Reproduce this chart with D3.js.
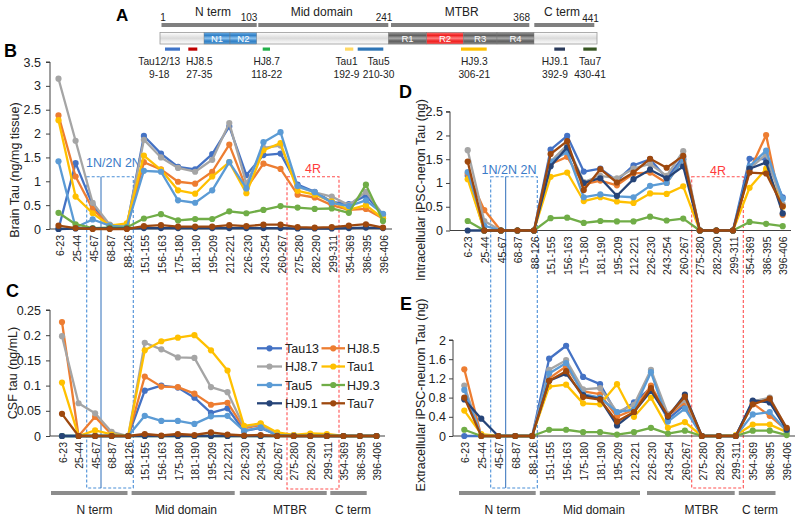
<!DOCTYPE html>
<html><head><meta charset="utf-8">
<script src="https://cdn.jsdelivr.net/npm/d3@7"></script>
<style>body{margin:0;background:#fff}svg{display:block;font-family:"Liberation Sans",Arial,sans-serif}</style>
</head><body><svg id="c" width="800" height="521"></svg>
<script>
// ---------- DATA ----------
const categories = ["6-23","25-44","45-67","68-87","88-126","151-155","156-163","175-180","181-190","195-209","212-221","226-230","243-254","260-267","275-280","282-290","299-311","354-369","386-395","396-406"];
const seriesNames = ["Tau13","HJ8.5","HJ8.7","Tau1","Tau5","HJ9.3","HJ9.1","Tau7"];

// Panel B: Brain Tau (ng/mg tissue)
const brainTau13 = [0,1.38,0.5,0.07,0.05,1.95,1.58,1.3,1.25,1.57,2.15,1.13,1.55,1.58,0.93,0.78,0.57,0.52,0.7,0.3];
const brainHJ85  = [2.38,1.1,0.42,0.07,0.01,1.4,1.25,0.99,0.95,1.2,1.77,0.85,1.37,1.26,0.72,0.66,0.5,0.4,0.42,0.22];
const brainHJ87  = [3.15,1.85,0.55,0.09,0.06,1.87,1.5,1.28,1.2,1.45,2.22,0.95,1.7,1.75,0.88,0.77,0.68,0.5,0.78,0.3];
const brainTau1  = [2.28,0.68,0.33,0.07,0.12,1.54,1.24,0.81,0.74,1.1,1.4,0.75,1.65,1.8,0.8,0.72,0.58,0.4,0.5,0.22];
const brainTau5  = [1.42,0.03,0.2,0.07,0.04,1.22,1.2,0.6,0.55,0.81,1.4,0.85,1.82,2.03,0.9,0.77,0.55,0.48,0.6,0.32];
const brainHJ93  = [0.34,0.1,0.02,0.03,0.03,0.22,0.31,0.18,0.21,0.21,0.37,0.33,0.4,0.48,0.45,0.42,0.43,0.34,0.93,0.17];
const brainHJ91  = [0,0.01,0.01,0.01,0.01,0.02,0.02,0.02,0.02,0.02,0.02,0.02,0.02,0.02,0.01,0.01,0.01,0.02,0.03,0.02];
const brainTau7  = [0.07,0.02,0,0,0,0.06,0.08,0.05,0.05,0.05,0.08,0.06,0.09,0.09,0.04,0.03,0.04,0.07,0.1,0.03];

// Panel C: CSF tau (ng/mL)
const csfTau13 = [0,0,0,0,0,0.09,0.1,0.096,0.076,0.046,0.055,0.01,0.016,0.002,0.002,0,0,0,0,0];
const csfHJ85  = [0.226,0,0.038,0.003,0,0.118,0.098,0.097,0.084,0.062,0.066,0.015,0.022,0.006,0,0,0,0,0,0];
const csfHJ87  = [0.198,0.065,0.045,0.008,0,0.185,0.172,0.156,0.155,0.097,0.087,0.018,0.024,0.003,0,0,0,0,0,0];
const csfTau1  = [0.106,0,0.011,0.003,0,0.17,0.188,0.195,0.2,0.17,0.13,0.02,0.025,0.007,0.002,0.005,0.004,0,0,0];
const csfTau5  = [0,0,0,0,0,0.04,0.03,0.03,0.024,0.039,0.04,0.01,0.017,0.001,0,0,0,0,0,0];
const csfHJ93  = [0,0,0,0,0,0,0,0,0,0,0,0,0,0,0,0,0,0,0,0];
const csfHJ91  = [0,0,0,0,0,0,0,0,0,0,0,0,0,0,0,0,0,0,0,0];
const csfTau7  = [0.044,0,0,0,0,0.004,0.001,0.004,0.002,0.007,0.003,0.001,0.002,0,0,0,0,0,0,0];

// Panel D: Intracellular iPSC-neuron Tau (ng)
const intTau13 = [1.15,0,0,0,0,1.7,1.99,1.24,1.3,1.05,1.37,1.5,1.1,1.55,0,0,0,1.51,1.5,0.7];
const intHJ85  = [1.2,0.43,0,0,0,1.4,1.55,0.97,1.05,0.95,1.2,1.22,1.0,1.5,0,0,0,1.25,2.01,0.33];
const intHJ87  = [1.69,0.2,0,0,0,1.45,1.8,1.02,1.15,1.1,1.3,1.4,1.15,1.67,0,0,0,1.3,1.6,0.55];
const intTau1  = [1.08,0,0,0,0,1.13,1.22,0.62,0.7,0.61,0.58,0.78,0.77,0.93,0,0,0,0.9,1.3,0.5];
const intTau5  = [1.23,0.1,0,0,0,1.45,1.65,0.7,0.76,0.72,0.7,0.94,1.0,1.5,0,0,0,1.35,1.68,0.67];
const intHJ93  = [0.2,0,0,0,0,0.26,0.27,0.16,0.2,0.19,0.19,0.29,0.21,0.25,0,0,0,0.18,0.14,0.09];
const intHJ91  = [0,0,0,0,0,1.35,1.75,1.0,1.1,0.73,1.08,1.28,1.1,1.35,0,0,0,1.3,1.43,0.36];
const intTau7  = [1.45,0,0,0,0,1.61,1.88,0.85,1.29,1.01,1.22,1.51,1.32,1.57,0,0,0,1.22,1.2,0.51];

// Panel E: Extracellular iPSC-neuron Tau (ng)
const extTau13 = [0,0,0,0,0,1.61,1.88,1.23,1.08,0.45,0.7,1.0,0.35,0.65,0,0,0,0.72,0.75,0.13];
const extHJ85  = [1.39,0,0,0,0,1.2,1.45,0.93,0.87,0.4,0.55,1.05,0.42,0.7,0,0,0,0.68,0.42,0.12];
const extHJ87  = [1.05,0,0,0,0,1.38,1.58,0.97,1.0,0.5,0.65,1.38,0.45,0.75,0,0,0,0.72,0.8,0.15];
const extTau1  = [0.53,0.04,0,0,0,1.03,1.07,0.68,0.66,1.08,0.4,0.8,0.17,0.29,0,0,0.02,0.24,0.24,0.08];
const extTau5  = [0.96,0,0,0,0,1.3,1.52,0.87,0.8,0.5,0.55,1.33,0.3,0.57,0,0,0,0.45,0.5,0.1];
const extHJ93  = [0.13,0,0,0,0,0.13,0.13,0.08,0.08,0.03,0.08,0.17,0.05,0.11,0,0,0,0.11,0.11,0.02];
const extHJ91  = [0.76,0.36,0,0,0,1.15,1.3,0.85,0.77,0.22,0.5,0.94,0.4,0.86,0,0,0,0.74,0.7,0.13];
const extTau7  = [0.8,0,0,0,0,1.15,1.35,0.81,0.76,0.3,0.5,1.0,0.42,0.82,0,0,0,0.66,0.78,0.17];

const ticksB = [0,0.5,1,1.5,2,2.5,3,3.5];
const ticksC = [0,0.05,0.1,0.15,0.2,0.25];
const ticksD = [0,0.5,1,1.5,2,2.5];
const ticksE = [0,0.4,0.8,1.2,1.6,2];

// Panel A: tau protein map
const domainNames = ["N term","Mid domain","MTBR","C term"];
const domainEnds = ["1","103","241","368","441"];
const epitopeNames = ["Tau12/13","HJ8.5","HJ8.7","Tau1","Tau5","HJ9.3","HJ9.1","Tau7"];
const epitopeRanges = ["9-18","27-35","118-22","192-9","210-30","306-21","392-9","430-41"];
const regionLabels = ["N1","N2","R1","R2","R3","R4"];

// ---------- STYLE ----------
const colors = ["#4472C4","#ED7D31","#A5A5A5","#FFC000","#5B9BD5","#70AD47","#264478","#9E480E"];
const epiColors = ["#3f74c8","#c00000","#22b04a","#ffd966","#2e75b6","#ffc000","#2a3a5a","#375623"];
const FONT = '"Liberation Sans", Arial, sans-serif';
const svg = d3.select("#c");

// ---------- PANEL A ----------
const defs = svg.append("defs");
function grad(id, stops){
  const g = defs.append("linearGradient").attr("id",id).attr("x1",0).attr("y1",0).attr("x2",0).attr("y2",1);
  stops.forEach((c,i)=>g.append("stop").attr("offset",(i/(stops.length-1)*100)+"%").attr("stop-color",c));
}
grad("gBar",["#ffffff","#ececec","#dadada","#eeeeee","#f9f9f9"]);
grad("gN",["#6fb0e6","#2f7fc6","#8cc2ee","#2f7fc6","#5a9fd8"]);
grad("gR",["#9a9a9a","#5e5e5e","#a8a8a8","#5e5e5e","#888888"]);
grad("gR2",["#ff7070","#ee2020","#ff8080","#ee2020","#ff5050"]);

const barX0 = 160, barX1 = 597, barY = 32.5, barH = 11.5;
svg.append("rect").attr("x",barX0).attr("y",barY).attr("width",barX1-barX0).attr("height",barH)
  .attr("fill","url(#gBar)").attr("stroke","#9a9a9a").attr("stroke-width",0.8);
const regionX = [[204,230],[230,256.7],[388.3,426.7],[426.7,463.3],[463.3,497],[497,534]];
const regionFill = ["url(#gN)","url(#gN)","url(#gR)","url(#gR2)","url(#gR)","url(#gR)"];
regionLabels.forEach((r,i)=>{
  svg.append("rect").attr("x",regionX[i][0]).attr("y",barY).attr("width",regionX[i][1]-regionX[i][0]).attr("height",barH)
    .attr("fill",regionFill[i]).attr("stroke","#777").attr("stroke-width",0.4);
  svg.append("text").attr("x",(regionX[i][0]+regionX[i][1])/2).attr("y",barY+barH/2+3.3).attr("text-anchor","middle")
    .attr("font-size",9.5).attr("fill","#fff").attr("font-family",FONT).text(r);
});
const domX = [[161.5,256.7],[258.3,388.3],[391,529.3],[534.3,594.3]];
const domLabelX = [213,321.7,461.7,562];
domainNames.forEach((d,i)=>{
  svg.append("rect").attr("x",domX[i][0]).attr("y",23).attr("width",domX[i][1]-domX[i][0]).attr("height",4).attr("fill","#7f7f7f");
  svg.append("text").attr("x",domLabelX[i]).attr("y",16).attr("text-anchor","middle").attr("font-size",12).attr("font-family",FONT).attr("fill","#222").text(d);
});
const endX = [163,249,384,521.7,590.5], endY=[20.5,20.5,20.5,20.5,21.5];
domainEnds.forEach((t,i)=>{
  svg.append("text").attr("x",endX[i]).attr("y",endY[i]).attr("text-anchor","middle").attr("font-size",10).attr("font-family",FONT).attr("fill","#222").text(t);
});
const epiMark = [[165,180],[188.3,197.3],[262.7,270],[345,353.3],[357.7,383.3],[461,486.7],[554.3,565],[583.3,596.7]];
const epiLabX = [159.3,199.3,266.7,346.5,378.5,474.3,555,590];
epitopeNames.forEach((e,i)=>{
  svg.append("rect").attr("x",epiMark[i][0]).attr("y",47.5).attr("width",epiMark[i][1]-epiMark[i][0]).attr("height",3.2).attr("fill",epiColors[i]);
  svg.append("text").attr("x",epiLabX[i]).attr("y",65).attr("text-anchor","middle").attr("font-size",10.2).attr("font-family",FONT).attr("fill","#222").text(e);
  svg.append("text").attr("x",epiLabX[i]).attr("y",77.5).attr("text-anchor","middle").attr("font-size",10.2).attr("font-family",FONT).attr("fill","#222").text(epitopeRanges[i]);
});

// ---------- PANEL LETTERS ----------
[["A",116,20.5,17],["B",4,57,18],["C",6,296.5,18],["D",399,98,18],["E",400,309.5,18]].forEach(([t,x,y,s])=>{
  svg.append("text").attr("x",x).attr("y",y).attr("font-size",s).attr("font-weight","bold").attr("font-family",FONT).attr("fill","#000").text(t);
});

// ---------- DASHED REGION BOXES (drawn behind) ----------
const boxG = svg.append("g");
function box(x0,x1,y0,y1,col,mid){
  boxG.append("rect").attr("x",x0).attr("y",y0).attr("width",x1-x0).attr("height",y1-y0).attr("fill","none")
    .attr("stroke",col).attr("stroke-width",1.1).attr("stroke-dasharray","3,2");
  if(mid!==undefined) boxG.append("line").attr("x1",mid).attr("x2",mid).attr("y1",y0).attr("y2",y1).attr("stroke","#2f6eba").attr("stroke-width",1);
}
box(86.7,133.3,176.7,488,"#4a8fd8",101);
box(287,339,176.7,489,"#ff5050");
box(490.7,537.3,176.7,488,"#4a8fd8",505.7);
box(691.7,743.3,176.7,488,"#ff5050");
[[86,167,"1N/2N 2N","start","#3a7bc8"],[481.5,173.5,"1N/2N","start","#3a7bc8"],[520.5,173.5,"2N","start","#3a7bc8"],
 [313,172.5,"4R","middle","#ff3b3b"],[718,174.5,"4R","middle","#ff3b3b"]].forEach(([x,y,t,a,c])=>{
  svg.append("text").attr("x",x).attr("y",y).attr("text-anchor",a).attr("font-size",12.5).attr("font-family",FONT).attr("fill",c).text(t);
});

// ---------- LINE PANELS ----------
function panel(cfg){
  const g = svg.append("g");
  const x = d3.scalePoint().domain(categories).range([cfg.x0,cfg.x1]);
  const y = d3.scaleLinear().domain([0,cfg.max]).range([cfg.yb,cfg.yt]);
  const ya = d3.axisLeft(y).tickValues(cfg.ticks).tickSize(4).tickPadding(cfg.pad).tickFormat(d=>String(+d.toFixed(2)));
  const yg = g.append("g").attr("transform",`translate(${cfg.ax},0)`).call(ya);
  yg.select(".domain").attr("stroke","#404040").attr("d",`M-4,${y(cfg.max)}H0V${y(0)}`);
  yg.selectAll(".tick line").attr("stroke","#404040");
  yg.selectAll("text").attr("font-size",12.5).attr("font-family",FONT).attr("fill","#222");
  g.append("line").attr("x1",cfg.ax).attr("x2",cfg.axEnd).attr("y1",y(0)).attr("y2",y(0)).attr("stroke","#404040").attr("stroke-width",1);
  g.selectAll("text.cat").data(categories).join("text").attr("class","cat")
    .attr("transform",d=>`translate(${x(d)+cfg.lblDx},${y(0)+6}) rotate(-90)`)
    .attr("text-anchor","end").attr("dy","0.35em").attr("font-size",10.5).attr("font-family",FONT).attr("fill","#222").text(d=>d);
  g.append("text").attr("transform",`translate(${cfg.tx},${cfg.ty}) rotate(-90)`).attr("text-anchor","middle").attr("dy","0.35em")
    .attr("font-size",12.5).attr("font-family",FONT).attr("fill","#222").text(cfg.title);
  const line = d3.line().x((d,i)=>x(categories[i])).y(d=>y(d));
  cfg.data.forEach((vals,si)=>{
    const sg = g.append("g");
    sg.append("path").attr("d",line(vals)).attr("fill","none").attr("stroke",colors[si]).attr("stroke-width",2.3).attr("stroke-linejoin","round");
    sg.selectAll("circle").data(vals).join("circle").attr("cx",(d,i)=>x(categories[i])).attr("cy",d=>y(d)).attr("r",3.1).attr("fill",colors[si]);
  });
  return {x,y};
}

panel({x0:58.5,x1:383,ax:50,axEnd:392,yb:229,yt:62,max:3.5,ticks:ticksB,pad:5,lblDx:1.5,
  title:"Brain Tau (ng/mg tissue)",tx:15,ty:170,
  data:[brainTau13,brainHJ85,brainHJ87,brainTau1,brainTau5,brainHJ93,brainHJ91,brainTau7]});
panel({x0:62,x1:376.5,ax:50,axEnd:385,yb:436,yt:310,max:0.25,ticks:ticksC,pad:5,lblDx:1,
  title:"CSF tau (ng/mL)",tx:13,ty:373,
  data:[csfTau13,csfHJ85,csfHJ87,csfTau1,csfTau5,csfHJ93,csfHJ91,csfTau7]});
panel({x0:467.7,x1:782.7,ax:450,axEnd:791,yb:230.5,yt:111.7,max:2.5,ticks:ticksD,pad:3,lblDx:1,
  title:"Intracellular iPSC-neron Tau (ng)",tx:421,ty:190,
  data:[intTau13,intHJ85,intHJ87,intTau1,intTau5,intHJ93,intHJ91,intTau7]});
panel({x0:464.3,x1:786.7,ax:453,axEnd:795,yb:436,yt:340,max:2,ticks:ticksE,pad:3,lblDx:1,
  title:"Extracellular iPSC-neuron Tau (ng)",tx:421,ty:395,
  data:[extTau13,extHJ85,extHJ87,extTau1,extTau5,extHJ93,extHJ91,extTau7]});

// ---------- LEGEND (panel C) ----------
const legRowY = [348.3,366.5,385,403.3];
const legColX = [[257,282,285],[321.5,345,347]];
seriesNames.forEach((s,i)=>{
  const r = Math.floor(i/2), c = i%2;
  const [lx0,lx1,tx] = legColX[c];
  svg.append("line").attr("x1",lx0).attr("x2",lx1).attr("y1",legRowY[r]).attr("y2",legRowY[r]).attr("stroke",colors[i]).attr("stroke-width",2.3);
  svg.append("circle").attr("cx",(lx0+lx1)/2).attr("cy",legRowY[r]).attr("r",3.1).attr("fill",colors[i]);
  svg.append("text").attr("x",tx).attr("y",legRowY[r]).attr("dy","0.36em").attr("font-size",12.5).attr("font-family",FONT).attr("fill","#222").text(s);
});

// ---------- BOTTOM DOMAIN BARS ----------
const bottomBars = [
  [[51,127.5],[131.6,234.7],[239.8,326.7],[330.3,366.7]],
  [[459,535.7],[539.8,640],[647,734.7],[738.8,775.5]]];
const bottomLbl = [[94.4,186,290,353],[502.6,594,701.5,760]];
bottomBars.forEach((bars,p)=>{
  bars.forEach((b,i)=>{
    svg.append("rect").attr("x",b[0]).attr("y",491).attr("width",b[1]-b[0]).attr("height",4).attr("fill","#8c8c8c");
    svg.append("text").attr("x",bottomLbl[p][i]).attr("y",513.5).attr("text-anchor","middle").attr("font-size",12).attr("font-family",FONT).attr("fill","#222").text(domainNames[i]);
  });
});
</script></body></html>
